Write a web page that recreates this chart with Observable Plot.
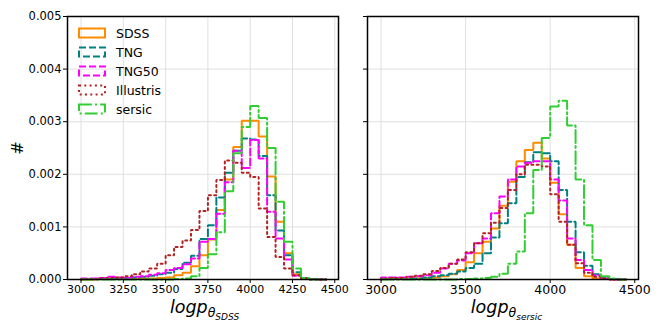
<!DOCTYPE html>
<html><head><meta charset="utf-8">
<script src="https://cdn.jsdelivr.net/npm/d3@7"></script>
<script src="https://cdn.jsdelivr.net/npm/@observablehq/plot@0.6"></script>
<style>
body{margin:0;background:#fff;}
#wrap{position:relative;width:664px;height:332px;font-family:"DejaVu Sans";background:#fff;}
#left,#right,#legend{position:absolute;top:0;}
#left{left:0;z-index:2}
#right{left:345px;z-index:1}
#legend{left:0;z-index:3}
</style></head><body>
<div id="wrap"><div id="left"></div><div id="right"></div><svg id="legend" width="200" height="130"></svg></div>
<script>
const binStarts = [3000,3050,3100,3150,3200,3250,3300,3350,3400,3450,3500,3550,3600,3650,3700,3750,3800,3850,3900,3950,4000,4050,4100,4150,4200,4250,4300,4350,4400];
const binWidth = 50;

const seriesNames = ["SDSS","TNG","TNG50","Illustris","sersic"];
const seriesColors = ["#ff8c00","#008080","#ff00ff","#b22222","#32cd32"];
const seriesDash = ["none","7,3","7,3","2,3.3","12.8,3.2,2,3.2"];

const leftTicks = [3000,3250,3500,3750,4000,4250,4500];
const rightTicks = [3000,3500,4000,4500];
const yTicks = [0,0.001,0.002,0.003,0.004,0.005];

// left panel (theta_SDSS)
const sdssL = [0,0,0.00001,0.00001,0.00001,0.00001,0.00001,0.00002,0.00002,0.00003,0.00004,0.00008,0.00013,0.00025,0.00046,0.00076,0.00132,0.0019,0.00252,0.00302,0.00302,0.00272,0.00196,0.0011,0.0005,0.0001,0.00002,0.00001,0];
const tngL = [0.00001,0.00001,0.00001,0.00002,0.00002,0.00003,0.00004,0.00005,0.00007,0.0001,0.00013,0.0002,0.00032,0.00045,0.00077,0.00103,0.00156,0.00203,0.00245,0.00268,0.00266,0.00235,0.0016,0.00093,0.00046,0.00014,0.00003,0.00001,0];
const tng50L = [0.00002,0.00002,0.00003,0.00005,0.00004,0.00003,0.00005,0.00006,0.00009,0.00012,0.00018,0.00022,0.00029,0.0004,0.00072,0.00077,0.00125,0.00185,0.00245,0.00212,0.00265,0.0023,0.00129,0.00078,0.00038,0.00007,0.00002,0,0];
const illustrisL = [0.00001,0.00001,0.00002,0.00003,0.00004,0.00006,0.0001,0.00015,0.00021,0.0003,0.00046,0.00062,0.00074,0.00094,0.0013,0.0016,0.00189,0.00226,0.00222,0.00203,0.00195,0.00135,0.00081,0.00043,0.00021,0.00008,0.00002,0,0];
const sersicL = [0,0,0,0,0,0,0,0,0,0,0,0.00001,0.00002,0.00006,0.00022,0.00048,0.0009,0.00168,0.0024,0.0029,0.0033,0.00307,0.0025,0.00148,0.00072,0.00021,0.00003,0,0];

// right panel (theta_sersic)
const sdssR = [0.00001,0.00001,0.00001,0.00002,0.00002,0.00003,0.00004,0.00006,0.0001,0.00018,0.00033,0.0005,0.00072,0.00097,0.0014,0.00186,0.00225,0.00246,0.0026,0.0023,0.00184,0.00124,0.00066,0.00022,0.00006,0.00002,0.00001,0,0];
const tngR = [0.00001,0.00001,0.00001,0.00002,0.00002,0.00004,0.00006,0.00008,0.00011,0.00015,0.00022,0.0003,0.0005,0.0008,0.00107,0.00145,0.00195,0.00223,0.00242,0.0024,0.00225,0.0017,0.0011,0.00052,0.00026,0.0001,0.00003,0.00001,0];
const tng50R = [0.00004,0.00004,0.00004,0.00005,0.00006,0.00008,0.00013,0.00021,0.0003,0.00036,0.0005,0.00069,0.00078,0.00126,0.00158,0.0019,0.00215,0.00222,0.00225,0.00225,0.0019,0.0015,0.00078,0.00037,0.00018,0.00008,0.00002,0,0];
const illustrisR = [0.00002,0.00003,0.00003,0.00005,0.00007,0.0001,0.00016,0.00022,0.0003,0.00038,0.00052,0.00069,0.00088,0.00108,0.00136,0.0017,0.002,0.00218,0.00218,0.00215,0.00162,0.0011,0.00066,0.00031,0.00013,0.00005,0.00002,0,0];
const sersicR = [0,0,0,0,0,0,0,0,0,0.00001,0.00001,0.00002,0.00003,0.00005,0.00011,0.0003,0.00053,0.00126,0.00208,0.00269,0.00329,0.0034,0.00293,0.0019,0.00103,0.00037,0.00006,0.00002,0];

const xDomain = [2920, 4522];

function stepPoints(vals){
  const pts = [{x: binStarts[0], y: 0}];
  vals.forEach((v,i) => pts.push({x: binStarts[i], y: v}));
  pts.push({x: binStarts[binStarts.length-1] + binWidth, y: 0});
  return pts;
}

function histMarks(list){
  return list.map((vals,i) => Plot.line(stepPoints(vals), {
    x: "x", y: "y", curve: "step-after",
    stroke: seriesColors[i], strokeWidth: 2,
    strokeDasharray: seriesDash[i] === "none" ? null : seriesDash[i],
    strokeLinejoin: "miter"
  }));
}

function panel(opts){
  return Plot.plot({
    width: opts.width, height: 332,
    marginLeft: opts.ml, marginRight: opts.mr, marginTop: 16, marginBottom: 53,
    style: {fontFamily: "DejaVu Sans", background: "transparent", color: "black", overflow: "visible"},
    x: {domain: xDomain},
    y: {domain: [0, 0.005]},
    marks: [
      Plot.gridX(opts.ticks, {stroke: "#dcdcdc", strokeOpacity: 1, strokeWidth: 0.9}),
      Plot.gridY(yTicks, {stroke: "#dcdcdc", strokeOpacity: 1, strokeWidth: 0.9}),
      ...histMarks(opts.series),
      Plot.axisX({ticks: opts.ticks, tickSize: 4, tickPadding: 2, fontSize: opts.xfs, label: null, tickFormat: d => String(d)}),
      Plot.axisY({ticks: yTicks, tickSize: 4, tickPadding: 2, fontSize: 11.5, label: null,
        tickFormat: opts.ylabels ? d3.format(".3f") : () => ""}),
      Plot.frame({stroke: "black", strokeWidth: 1.5})
    ]
  });
}

const left = panel({width: 362, ml: 67, mr: 24, ticks: leftTicks, xfs: 11, ylabels: true,
  series: [sdssL, tngL, tng50L, illustrisL, sersicL]});
const right = panel({width: 319, ml: 22, mr: 26, ticks: rightTicks, xfs: 12.5, ylabels: false,
  series: [sdssR, tngR, tng50R, illustrisR, sersicR]});
document.getElementById("left").appendChild(left);
document.getElementById("right").appendChild(right);

function xlabel(svg, cx, sub){
  const t = d3.select(svg).append("text")
    .attr("x", cx).attr("y", 313).attr("text-anchor", "middle")
    .attr("font-family", "DejaVu Sans").attr("font-style", "italic").attr("fill", "black");
  t.append("tspan").attr("font-size", 17.5).text("logp");
  t.append("tspan").attr("font-size", 12.5).attr("dy", 4).text("θ");
  t.append("tspan").attr("font-size", 9).attr("dy", 3).text(sub);
}
xlabel(left, (67 + 338) / 2 + 2, "SDSS");
xlabel(right, (22 + 293) / 2 + 4, "sersic");

d3.select(left).append("text").attr("transform", "translate(23,148) rotate(-90)")
  .attr("text-anchor", "middle").attr("font-family", "DejaVu Sans").attr("font-size", 16)
  .attr("fill", "black").text("#");

// legend
const lg = d3.select("#legend");
seriesNames.forEach((name, i) => {
  const cy = 33 + 19 * i;
  lg.append("rect").attr("x", 79).attr("y", cy - 4.5).attr("width", 26).attr("height", 9)
    .attr("fill", "none").attr("stroke", seriesColors[i]).attr("stroke-width", 2)
    .attr("stroke-dasharray", seriesDash[i] === "none" ? null : seriesDash[i]);
  lg.append("text").attr("x", 116).attr("y", cy).attr("dy", "0.36em")
    .attr("font-family", "DejaVu Sans").attr("font-size", 12.5).attr("fill", "black").text(name);
});
</script>
</body></html>
